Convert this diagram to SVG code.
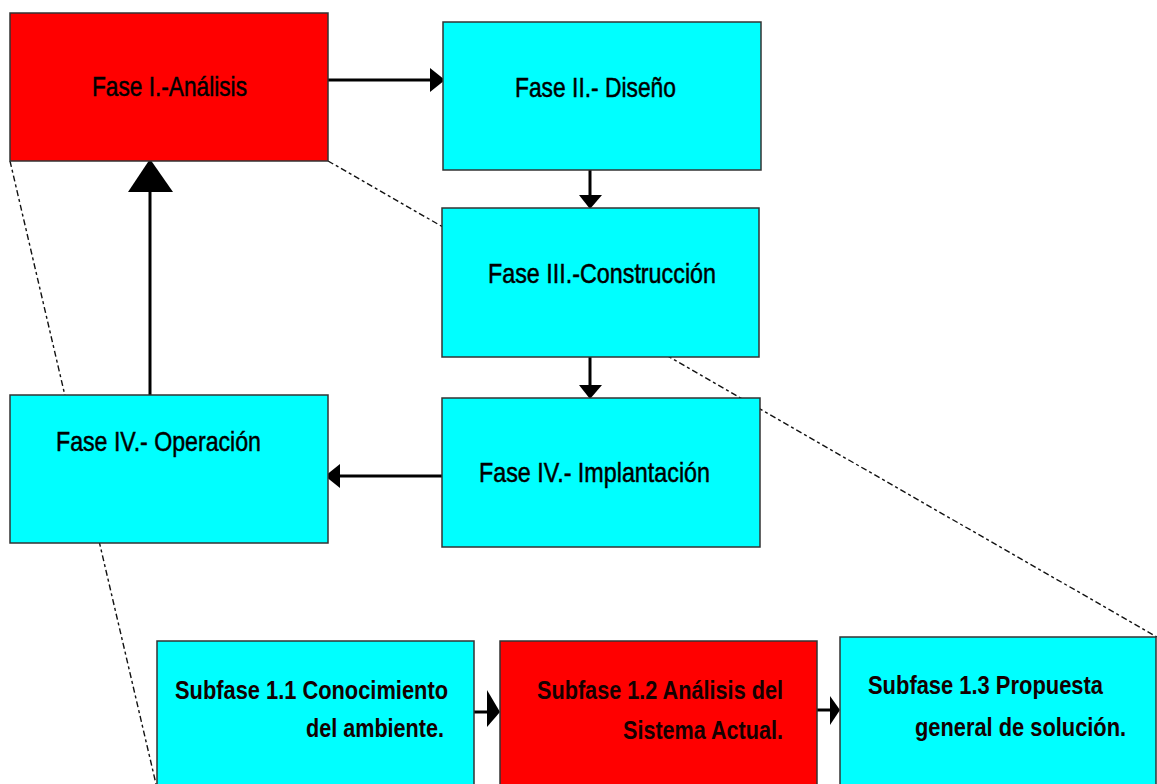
<svg xmlns="http://www.w3.org/2000/svg" width="1157" height="784" viewBox="0 0 1157 784">
  <style>
    .box { stroke: #333; stroke-width: 1.5; }
    .red { fill: #ff0000; }
    .cyan { fill: #00ffff; }
    .zoom { fill: none; stroke: #111; stroke-width: 1.4; stroke-dasharray: 6 3 3 3; }
    .link { fill: none; stroke: #000; stroke-width: 3; }
    .head { fill: #000; }
    .lbl { font-family: "Liberation Sans", Arial, sans-serif; font-size: 28px; fill: #000; stroke: #000; stroke-width: 0.5; }
    .sub { font-family: "Liberation Sans", Arial, sans-serif; font-size: 26px; font-weight: bold; fill: #140000; }
  </style>

  <!-- zoom-out guide lines, drawn beneath the boxes -->
  <g id="guides">
    <line class="zoom" x1="10" y1="161" x2="156" y2="784"/>
    <line class="zoom" x1="328" y1="161" x2="1157" y2="637"/>
  </g>

  <!-- connectors -->
  <g id="connectors">
    <!-- I -> II -->
    <line class="link" x1="328" y1="80" x2="432" y2="80"/>
    <polygon class="head" points="445,80 430,68 430,92"/>
    <!-- II -> III -->
    <line class="link" x1="590" y1="170" x2="590" y2="197"/>
    <polygon class="head" points="590,209 579,195 602,195"/>
    <!-- III -> IV Implantación -->
    <line class="link" x1="590" y1="357" x2="590" y2="387"/>
    <polygon class="head" points="590,399 579,385 602,385"/>
    <!-- Implantación -> Operación -->
    <line class="link" x1="442" y1="476" x2="338" y2="476"/>
    <polygon class="head" points="325,476 340,464 340,488"/>
    <!-- Operación -> I -->
    <line class="link" x1="150" y1="395" x2="150" y2="190"/>
    <polygon class="head" points="150,159 128,192 173,192"/>
    <!-- 1.1 -> 1.2 -->
    <line class="link" x1="474" y1="712" x2="490" y2="712"/>
    <polygon class="head" points="500,712 487,690 487,727"/>
    <!-- 1.2 -> 1.3 -->
    <line class="link" x1="817" y1="710" x2="832" y2="710"/>
    <polygon class="head" points="840,710 830,696 830,725"/>
  </g>

  <g id="fase1">
    <rect class="box red" x="10" y="13" width="318" height="148"/>
    <text class="lbl" x="92" y="96" textLength="155" lengthAdjust="spacingAndGlyphs">Fase I.-Análisis</text>
  </g>

  <g id="fase2">
    <rect class="box cyan" x="443" y="22" width="318" height="148"/>
    <text class="lbl" x="515" y="97" textLength="161" lengthAdjust="spacingAndGlyphs">Fase II.- Diseño</text>
  </g>

  <g id="fase3">
    <rect class="box cyan" x="442" y="208" width="317" height="149"/>
    <text class="lbl" x="488" y="283" textLength="228" lengthAdjust="spacingAndGlyphs">Fase III.-Construcción</text>
  </g>

  <g id="fase4-implantacion">
    <rect class="box cyan" x="442" y="398" width="318" height="149"/>
    <text class="lbl" x="479" y="482" textLength="231" lengthAdjust="spacingAndGlyphs">Fase IV.- Implantación</text>
  </g>

  <g id="fase4-operacion">
    <rect class="box cyan" x="10" y="395" width="318" height="148"/>
    <text class="lbl" x="56" y="451" textLength="205" lengthAdjust="spacingAndGlyphs">Fase IV.- Operación</text>
  </g>

  <g id="subfase11">
    <rect class="box cyan" x="157" y="641" width="317" height="150"/>
    <text class="sub" x="175" y="699" textLength="273" lengthAdjust="spacingAndGlyphs">Subfase 1.1 Conocimiento</text>
    <text class="sub" x="306" y="737" textLength="138" lengthAdjust="spacingAndGlyphs">del ambiente.</text>
  </g>

  <g id="subfase12">
    <rect class="box red" x="500" y="641" width="317" height="150"/>
    <text class="sub" x="537" y="699" textLength="246" lengthAdjust="spacingAndGlyphs">Subfase 1.2 Análisis del</text>
    <text class="sub" x="623" y="739" textLength="160" lengthAdjust="spacingAndGlyphs">Sistema Actual.</text>
  </g>

  <g id="subfase13">
    <rect class="box cyan" x="840" y="637" width="316" height="154"/>
    <text class="sub" x="868" y="694" textLength="235" lengthAdjust="spacingAndGlyphs">Subfase 1.3 Propuesta</text>
    <text class="sub" transform="translate(915 736) scale(0.84 1)" x="0" y="0">general de solución.</text>
  </g>
</svg>
